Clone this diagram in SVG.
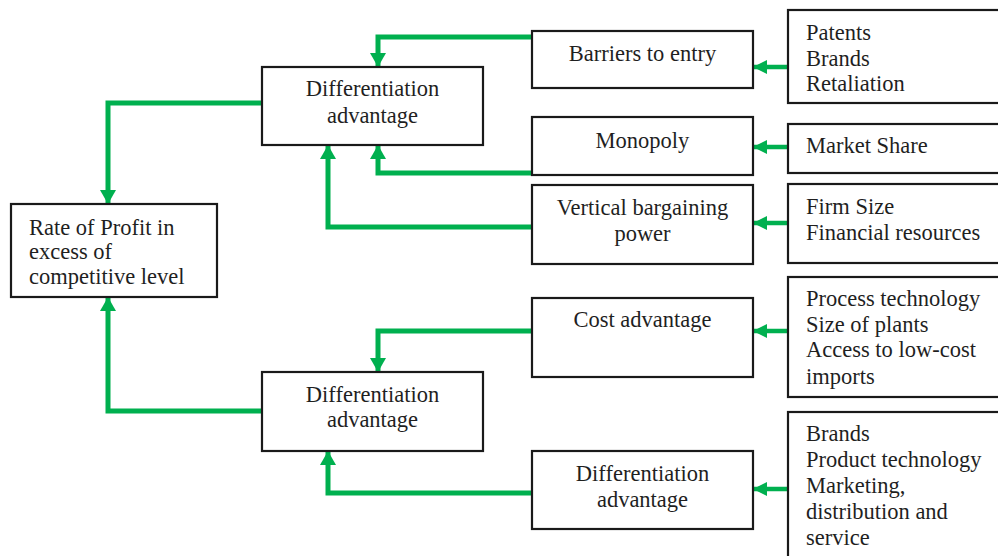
<svg xmlns="http://www.w3.org/2000/svg" width="998" height="556" viewBox="0 0 998 556">
  <defs>
    <marker id="arrow" markerUnits="userSpaceOnUse" markerWidth="15" markerHeight="16" refX="14" refY="8" orient="auto">
      <path d="M0,0 L14,8 L0,16 z" fill="#00b04f"/>
    </marker>
    <marker id="arrow-sm" markerUnits="userSpaceOnUse" markerWidth="15" markerHeight="14" refX="14" refY="7" orient="auto">
      <path d="M0,0 L14,7 L0,14 z" fill="#00b04f"/>
    </marker>
  </defs>
  <style>
    .box { fill: #ffffff; stroke: #1a1a1a; stroke-width: 2.2; }
    .lbl { fill: #1f1f1f; }
    .mid { text-anchor: middle; }
    .wire { fill: none; stroke: #00b04f; stroke-width: 5; stroke-linejoin: miter; }
    .wire-sm { fill: none; stroke: #00b04f; stroke-width: 4.5; }
  </style>
  <rect width="998" height="556" fill="#ffffff"/>

  <!-- connectors -->
  <g id="connectors">
    <path class="wire" d="M262,103 H108 V204" marker-end="url(#arrow)"/>
    <path class="wire" d="M262,411 H108 V297" marker-end="url(#arrow)"/>
    <path class="wire" d="M533,37 H378 V67" marker-end="url(#arrow)"/>
    <path class="wire" d="M533,173 H378 V145" marker-end="url(#arrow)"/>
    <path class="wire" d="M533,227 H328 V145" marker-end="url(#arrow)"/>
    <path class="wire" d="M533,331 H378 V372" marker-end="url(#arrow)"/>
    <path class="wire" d="M533,493 H328 V451" marker-end="url(#arrow)"/>
    <path class="wire-sm" d="M788,67 H753" marker-end="url(#arrow-sm)"/>
    <path class="wire-sm" d="M788,147 H753" marker-end="url(#arrow-sm)"/>
    <path class="wire-sm" d="M788,223 H753" marker-end="url(#arrow-sm)"/>
    <path class="wire-sm" d="M788,331 H753" marker-end="url(#arrow-sm)"/>
    <path class="wire-sm" d="M788,489 H753" marker-end="url(#arrow-sm)"/>
  </g>

  <!-- result -->
  <g id="rate-of-profit">
    <rect class="box" x="11" y="204" width="206" height="93"/>
    <text class="lbl" font-family="Liberation Serif" font-size="22.5" x="29" y="235">Rate of Profit in</text>
    <text class="lbl" font-family="Liberation Serif" font-size="22.5" x="29" y="259">excess of</text>
    <text class="lbl" font-family="Liberation Serif" font-size="22.5" x="29" y="284">competitive level</text>
  </g>

  <!-- middle column -->
  <g id="diff-upper">
    <rect class="box" x="262" y="67" width="221" height="78"/>
    <text class="lbl mid" font-family="Liberation Serif" font-size="22.5" x="372.5" y="96">Differentiation</text>
    <text class="lbl mid" font-family="Liberation Serif" font-size="22.5" x="372.5" y="123">advantage</text>
  </g>
  <g id="diff-lower">
    <rect class="box" x="262" y="372" width="221" height="79"/>
    <text class="lbl mid" font-family="Liberation Serif" font-size="22.5" x="372.5" y="402">Differentiation</text>
    <text class="lbl mid" font-family="Liberation Serif" font-size="22.5" x="372.5" y="427">advantage</text>
  </g>

  <!-- source column -->
  <g id="barriers">
    <rect class="box" x="532" y="31" width="221" height="57"/>
    <text class="lbl mid" font-family="Liberation Serif" font-size="22.5" x="642.5" y="61">Barriers to entry</text>
  </g>
  <g id="monopoly">
    <rect class="box" x="532" y="117" width="221" height="58"/>
    <text class="lbl mid" font-family="Liberation Serif" font-size="22.5" x="642.5" y="148">Monopoly</text>
  </g>
  <g id="vertical-bargaining">
    <rect class="box" x="532" y="185" width="221" height="79"/>
    <text class="lbl mid" font-family="Liberation Serif" font-size="22.5" x="642.5" y="215">Vertical bargaining</text>
    <text class="lbl mid" font-family="Liberation Serif" font-size="22.5" x="642.5" y="241">power</text>
  </g>
  <g id="cost-advantage">
    <rect class="box" x="532" y="298" width="221" height="79"/>
    <text class="lbl mid" font-family="Liberation Serif" font-size="22.5" x="642.5" y="327">Cost advantage</text>
  </g>
  <g id="diff-source">
    <rect class="box" x="532" y="451" width="221" height="78"/>
    <text class="lbl mid" font-family="Liberation Serif" font-size="22.5" x="642.5" y="481">Differentiation</text>
    <text class="lbl mid" font-family="Liberation Serif" font-size="22.5" x="642.5" y="507">advantage</text>
  </g>

  <!-- factor column -->
  <g id="factors-barriers">
    <rect class="box" x="788" y="10" width="216" height="93"/>
    <text class="lbl" font-family="Liberation Serif" font-size="22.5" x="806" y="40">Patents</text>
    <text class="lbl" font-family="Liberation Serif" font-size="22.5" x="806" y="66">Brands</text>
    <text class="lbl" font-family="Liberation Serif" font-size="22.5" x="806" y="91">Retaliation</text>
  </g>
  <g id="factors-monopoly">
    <rect class="box" x="788" y="124" width="216" height="49"/>
    <text class="lbl" font-family="Liberation Serif" font-size="22.5" x="806" y="153">Market Share</text>
  </g>
  <g id="factors-bargaining">
    <rect class="box" x="788" y="184" width="216" height="79"/>
    <text class="lbl" font-family="Liberation Serif" font-size="22.5" x="806" y="214">Firm Size</text>
    <text class="lbl" font-family="Liberation Serif" font-size="22.5" x="806" y="240">Financial resources</text>
  </g>
  <g id="factors-cost">
    <rect class="box" x="788" y="277" width="216" height="120"/>
    <text class="lbl" font-family="Liberation Serif" font-size="22.5" x="806" y="306">Process technology</text>
    <text class="lbl" font-family="Liberation Serif" font-size="22.5" x="806" y="332">Size of plants</text>
    <text class="lbl" font-family="Liberation Serif" font-size="22.5" x="806" y="357">Access to low-cost</text>
    <text class="lbl" font-family="Liberation Serif" font-size="22.5" x="806" y="384">imports</text>
  </g>
  <g id="factors-differentiation">
    <rect class="box" x="788" y="412" width="216" height="160"/>
    <text class="lbl" font-family="Liberation Serif" font-size="22.5" x="806" y="441">Brands</text>
    <text class="lbl" font-family="Liberation Serif" font-size="22.5" x="806" y="467">Product technology</text>
    <text class="lbl" font-family="Liberation Serif" font-size="22.5" x="806" y="493">Marketing,</text>
    <text class="lbl" font-family="Liberation Serif" font-size="22.5" x="806" y="519">distribution and</text>
    <text class="lbl" font-family="Liberation Serif" font-size="22.5" x="806" y="545">service</text>
  </g>
</svg>
